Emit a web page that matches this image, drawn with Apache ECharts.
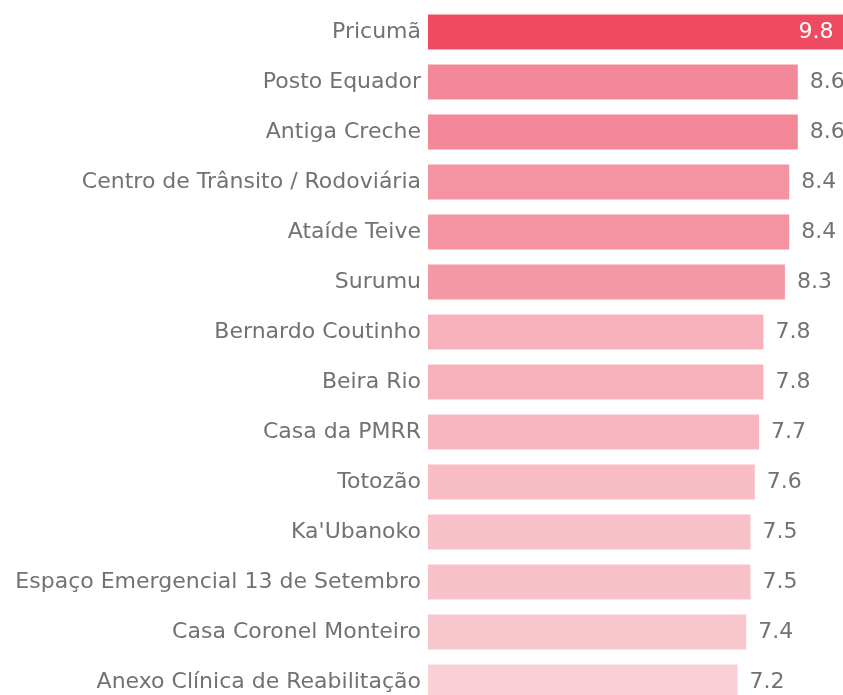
<!DOCTYPE html>
<html>
<head>
<meta charset="utf-8">
<script src="https://cdn.jsdelivr.net/npm/echarts@6/dist/echarts.min.js"></script>
<style>
  html, body { margin: 0; padding: 0; background: #fff; overflow: hidden; }
  #chart { width: 843px; height: 695px; }
</style>
</head>
<body>
<div id="chart"></div>
<script>
// Locations and their scores
const locations = [
  'Pricumã',
  'Posto Equador',
  'Antiga Creche',
  'Centro de Trânsito / Rodoviária',
  'Ataíde Teive',
  'Surumu',
  'Bernardo Coutinho',
  'Beira Rio',
  'Casa da PMRR',
  'Totozão',
  "Ka'Ubanoko",
  'Espaço Emergencial 13 de Setembro',
  'Casa Coronel Monteiro',
  'Anexo Clínica de Reabilitação'
];
const scores = [9.8, 8.6, 8.6, 8.4, 8.4, 8.3, 7.8, 7.8, 7.7, 7.6, 7.5, 7.5, 7.4, 7.2];

const topValue = Math.max(...scores);
const fontFamily = '"DejaVu Sans", sans-serif';
const fontSize = 22;
const textColor = '#727272';

const chart = echarts.init(document.getElementById('chart'), null, { renderer: 'canvas' });

chart.setOption({
  animation: false,
  // plot runs a little past the right and bottom edges of the page
  grid: {
    left: 428, top: 7, width: 430, height: 700,
    containLabel: false,
    outerBoundsMode: 'none'
  },
  visualMap: {
    show: false,
    type: 'continuous',
    dimension: 0,
    min: 7.2,
    max: 9.8,
    inRange: { color: ['#F9D0D6', '#EE4B63'] }
  },
  xAxis: {
    type: 'value',
    min: 0,
    max: 10,
    show: false
  },
  yAxis: {
    type: 'category',
    data: locations,
    inverse: true,
    axisLine: { show: false },
    axisTick: { show: false },
    axisLabel: {
      margin: 7,
      color: textColor,
      fontSize: fontSize,
      fontFamily: fontFamily
    }
  },
  series: [{
    type: 'bar',
    barWidth: 35,
    data: scores.map(v => v === topValue
      ? { value: v, label: { position: 'insideRight', distance: 16, color: '#ffffff' } }
      : v),
    label: {
      show: true,
      fontSize: fontSize,
      fontFamily: fontFamily,
      formatter: p => p.value.toFixed(1),
      position: 'right',
      distance: 12,
      color: textColor
    }
  }]
});
</script>
</body>
</html>
